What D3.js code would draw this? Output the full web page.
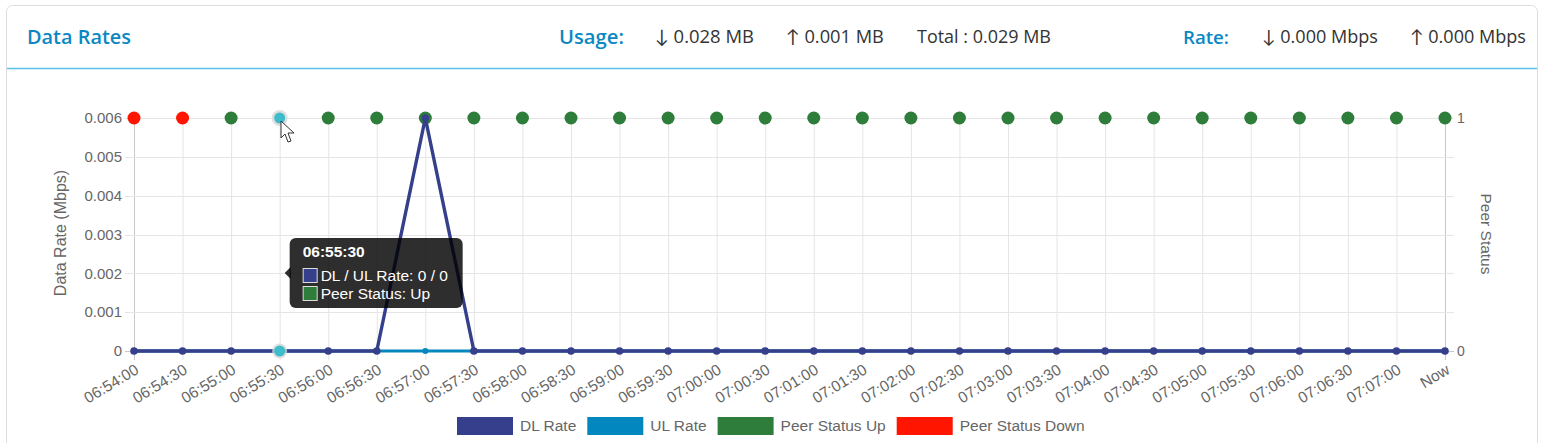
<!DOCTYPE html>
<html><head><meta charset="utf-8">
<script src="https://cdn.jsdelivr.net/npm/d3@7/dist/d3.min.js"></script>
<style>
body{margin:0;background:#fff;font-family:"Open Sans",sans-serif;}
svg{display:block;}
</style></head>
<body>
<svg id="c" width="1545" height="443"></svg>
<script>
const categories = ["06:54:00","06:54:30","06:55:00","06:55:30","06:56:00","06:56:30","06:57:00","06:57:30","06:58:00","06:58:30","06:59:00","06:59:30","07:00:00","07:00:30","07:01:00","07:01:30","07:02:00","07:02:30","07:03:00","07:03:30","07:04:00","07:04:30","07:05:00","07:05:30","07:06:00","07:06:30","07:07:00","Now"];
const dlRate = [0,0,0,0,0,0,0.006,0,0,0,0,0,0,0,0,0,0,0,0,0,0,0,0,0,0,0,0,0];
const ulRate = [0,0,0,0,0,0,0,0,0,0,0,0,0,0,0,0,0,0,0,0,0,0,0,0,0,0,0,0];
const peerStatus = ["Down","Down","Up","Up","Up","Up","Up","Up","Up","Up","Up","Up","Up","Up","Up","Up","Up","Up","Up","Up","Up","Up","Up","Up","Up","Up","Up","Up"];
const leftTicks = [0,0.001,0.002,0.003,0.004,0.005,0.006];
const rightTicks = [0,1];
const hoverIndex = 3;
const legendItems = [["DL Rate","#353f8b"],["UL Rate","#0288be"],["Peer Status Up","#2e7d3a"],["Peer Status Down","#ff1500"]];
const headerStats = [["↓ 0.028 MB",655],["↑ 0.001 MB",786],["Total : 0.029 MB",917],["↓ 0.000 Mbps",1262],["↑ 0.000 Mbps",1410]];

const svg = d3.select("#c");
// card
svg.append("rect").attr("x",6.5).attr("y",5.5).attr("width",1531).attr("height",460).attr("rx",6)
  .attr("fill","#fff").attr("stroke","#dedede");
svg.append("line").attr("x1",7).attr("x2",1537).attr("y1",68.5).attr("y2",68.5).attr("stroke","#5cc3e8").attr("stroke-width",1.5);

const hf = "'Open Sans', Lato, sans-serif";
function fitText(sel, target){
  const n = sel.node(); const w = n.getComputedTextLength();
  const fs = parseFloat(sel.attr("font-size"));
  sel.attr("font-size", (fs*target/w).toFixed(2));
}
fitText(svg.append("text").attr("x",27).attr("y",44).text("Data Rates").attr("font-family",hf).attr("font-size",19).attr("font-weight",600).attr("fill","#0b88c4"),104);
fitText(svg.append("text").attr("x",559).attr("y",44).text("Usage:").attr("font-family",hf).attr("font-size",19).attr("font-weight",600).attr("fill","#0b88c4"),65);
fitText(svg.append("text").attr("x",1183).attr("y",44).text("Rate:").attr("font-family",hf).attr("font-size",19).attr("font-weight",600).attr("fill","#0b88c4"),46);
const statW = [99,98,134,116,116];
headerStats.forEach(([t,x],k)=>{
  fitText(svg.append("text").attr("x",x).attr("y",43).text(t).attr("font-family",hf).attr("font-size",16.5).attr("fill","#333"),statW[k]);
});

const x = d3.scalePoint().domain(categories).range([134,1445]);
const yL = d3.scaleLinear().domain([0,0.006]).range([351,118]);
const yR = d3.scaleLinear().domain([0,1]).range([351,118]);
const cf = "'Liberation Sans', Arial, sans-serif";
const g = svg.append("g");

// grid
categories.forEach((c,i)=>{
  g.append("line").attr("x1",x(c)+0.5).attr("x2",x(c)+0.5).attr("y1",118).attr("y2",360)
    .attr("stroke",(i===0||i===categories.length-1)?"#c8c8c8":"#e5e5e5");
});
leftTicks.forEach(t=>{
  g.append("line").attr("x1",125).attr("x2",1454).attr("y1",Math.round(yL(t))+0.5).attr("y2",Math.round(yL(t))+0.5)
    .attr("stroke",t===0?"#c8c8c8":"#e5e5e5");
  g.append("text").attr("x",122).attr("y",yL(t)).attr("dy","0.35em").attr("text-anchor","end")
    .attr("font-family",cf).attr("font-size",15).attr("fill","#666").text(t===0?"0":d3.format(".3f")(t));
});
rightTicks.forEach(t=>{
  g.append("text").attr("x",1457).attr("y",yR(t)).attr("dy","0.35em").attr("text-anchor","start")
    .attr("font-family",cf).attr("font-size",14).attr("fill","#666").text(t);
});
// x tick labels
categories.forEach(c=>{
  g.append("text").attr("transform",`translate(${x(c)+3},${368}) rotate(-31)`).attr("text-anchor","end")
    .attr("dy","0.35em").attr("font-family",cf).attr("font-size",15.5).attr("fill","#666").text(c);
});
// axis titles
g.append("text").attr("transform","translate(66,233) rotate(-90)").attr("text-anchor","middle")
  .attr("font-family",cf).attr("font-size",16).attr("fill","#666").text("Data Rate (Mbps)");
g.append("text").attr("transform","translate(1481,234) rotate(90)").attr("text-anchor","middle")
  .attr("font-family",cf).attr("font-size",15.5).attr("fill","#666").text("Peer Status");

// peer status points
const statusColor = {Up:"#2e7d3a",Down:"#ff1500"};
peerStatus.forEach((s,i)=>{
  if(i===hoverIndex){
    g.append("circle").attr("cx",x(categories[i])).attr("cy",yR(1)).attr("r",8).attr("fill","#d8d8d8").attr("opacity",0.8);
    g.append("circle").attr("cx",x(categories[i])).attr("cy",yR(1)).attr("r",5.5).attr("fill","#3dbccb");
  } else {
    g.append("circle").attr("cx",x(categories[i])).attr("cy",yR(1)).attr("r",6.5).attr("fill",statusColor[s]);
  }
});

// UL line
const line = d3.line().x((d,i)=>x(categories[i])).y(d=>yL(d));
g.append("path").datum(ulRate).attr("d",line).attr("fill","none").attr("stroke","#0288be").attr("stroke-width",3);
ulRate.forEach((v,i)=>{
  g.append("circle").attr("cx",x(categories[i])).attr("cy",yL(v)).attr("r",3).attr("fill","#0288be");
});
// DL line
g.append("path").datum(dlRate).attr("d",line).attr("fill","none").attr("stroke","#353f8b").attr("stroke-width",3.4).attr("stroke-linejoin","round");
dlRate.forEach((v,i)=>{
  if(i===hoverIndex){
    g.append("circle").attr("cx",x(categories[i])).attr("cy",yL(v)).attr("r",7.5).attr("fill","#d8d8d8").attr("opacity",0.8);
    g.append("circle").attr("cx",x(categories[i])).attr("cy",yL(v)).attr("r",5.5).attr("fill","#3dbccb");
  } else {
    g.append("circle").attr("cx",x(categories[i])).attr("cy",yL(v)).attr("r",3.8).attr("fill","#353f8b");
  }
});

// legend
let lx = 457;
const lg = svg.append("g");
legendItems.forEach(([name,col])=>{
  lg.append("rect").attr("x",lx).attr("y",417).attr("width",56).attr("height",18).attr("fill",col);
  const t = lg.append("text").attr("x",lx+63).attr("y",426).attr("dy","0.35em").attr("font-family",cf)
    .attr("font-size",15.5).attr("fill","#666").text(name);
  lx += 63 + t.node().getComputedTextLength() + 11;
});

// tooltip
const hx = x(categories[hoverIndex]);
const tt = svg.append("g");
tt.append("path").attr("d",`M${hx+5},273 L${hx+11},267 L${hx+11},279 Z`).attr("fill","rgba(0,0,0,0.82)");
tt.append("rect").attr("x",hx+10).attr("y",238).attr("width",173).attr("height",70).attr("rx",6).attr("fill","rgba(0,0,0,0.82)");
tt.append("text").attr("x",hx+23).attr("y",257).attr("font-family",cf).attr("font-weight","bold").attr("font-size",15.5).attr("fill","#fff").text(categories[hoverIndex]);
const rows = [["DL / UL Rate: "+dlRate[hoverIndex]+" / "+ulRate[hoverIndex],"#353f8b"],["Peer Status: "+peerStatus[hoverIndex],"#2e7d3a"]];
rows.forEach(([t,c],k)=>{
  const yy = 268 + k*18;
  tt.append("rect").attr("x",hx+23.5).attr("y",yy+0.5).attr("width",14).attr("height",14).attr("fill",c).attr("stroke","#ddd").attr("stroke-width",1);
  tt.append("text").attr("x",hx+41).attr("y",yy+7.5).attr("dy","0.35em").attr("font-family",cf).attr("font-size",15.5).attr("fill","#fff").text(t);
});

// mouse cursor
svg.append("path").attr("d","M281,121 L281,138 L285,134 L288,142 L291,141 L288,133 L294,133 Z")
  .attr("fill","#fff").attr("stroke","#333").attr("stroke-width",1);
</script>
</body></html>
